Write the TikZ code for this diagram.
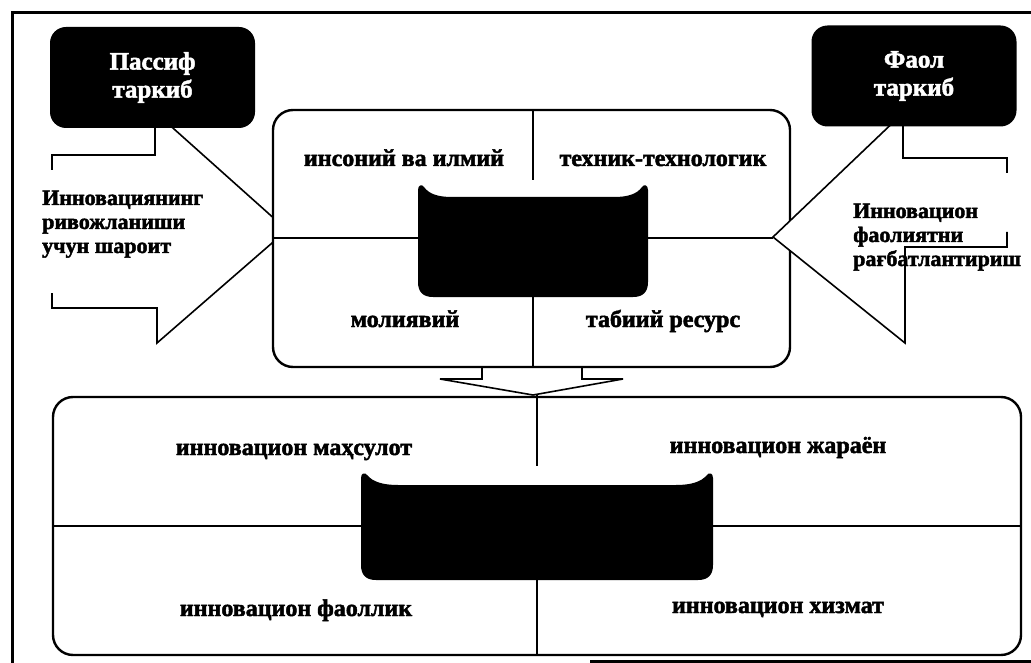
\documentclass[tikz,border=0pt]{standalone}
\usepackage{fontspec}
\setmainfont{Liberation Serif}[BoldFeatures={FakeBold=2}]
\begin{document}
\begin{tikzpicture}[x=1pt,y=-1pt,
  frame/.style={line width=3pt},
  box/.style={line width=2.4pt, rounded corners=20pt, fill=white},
  arr/.style={line width=1.6pt, fill=white, line join=miter},
  div/.style={line width=2.2pt},
  blackbox/.style={fill=black, rounded corners=16pt, text=white, align=center, inner sep=0pt,
    font=\bfseries\fontsize{25}{28}\selectfont, minimum width=205pt, minimum height=101pt},
  lbl/.style={font=\bfseries\fontsize{24}{26}\selectfont, inner sep=0pt, anchor=base},
  side/.style={font=\bfseries\fontsize{22}{24}\selectfont, inner sep=0pt, anchor=base west}
]
\useasboundingbox (0,0) rectangle (1031,663);

% outer frame
\draw[frame] (12,663) -- (12,13) -- (1031,13);
\draw[frame] (590,661) -- (1031,661);

% left block arrow
\draw[arr] (52,170) -- (52,155) -- (155,155) -- (155,112) -- (287,230) -- (157,343) -- (157,308) -- (52,308) -- (52,293);

% down arrow
\draw[arr] (482,366) -- (482,379) -- (440,379) -- (533,395) -- (623,379) -- (582,379) -- (582,366);

% top box
\draw[box] (273,110) rectangle (790,367);
\draw[div] (533,110) -- (533,180);
\draw[div] (533,297) -- (533,367);
\draw[div] (273,238) -- (418,238);

% right block arrow
\draw[arr] (1007,173) -- (1007,158) -- (903,158) -- (903,113) -- (773,237) -- (905,343) -- (905,247) -- (1007,247) -- (1007,232);
\draw[div] (648,238) -- (773,238);

% top black shape
\fill (418,282) -- (418,190) .. controls (418,185) and (422,184) .. (424,187)
  .. controls (429,194) and (438,197) .. (452,197) -- (614,197)
  .. controls (628,197) and (637,194) .. (642,187)
  .. controls (644,184) and (648,185) .. (648,190) -- (648,282)
  .. controls (648,292) and (643,297) .. (633,297) -- (433,297)
  .. controls (423,297) and (418,292) .. (418,282) -- cycle;

% bottom box
\draw[box] (53,397) rectangle (1021,655);
\draw[div] (537,395) -- (537,466);
\draw[div] (537,580) -- (537,655);
\draw[div] (53,526) -- (361,526);
\draw[div] (713,526) -- (1021,526);

% bottom black shape
\fill (361,565) -- (361,478) .. controls (361,473) and (365,472) .. (367,475)
  .. controls (373,482) and (383,485) .. (398,485) -- (676,485)
  .. controls (691,485) and (701,482) .. (707,475)
  .. controls (709,472) and (713,473) .. (713,478) -- (713,565)
  .. controls (713,575) and (708,580) .. (698,580) -- (376,580)
  .. controls (366,580) and (361,575) .. (361,565) -- cycle;

% black header boxes
\node[blackbox] (pas) at (152.5,77.5) {Пассиф\\таркиб};
\node[blackbox] (fao) at (914,76) {Фаол\\таркиб};

% side texts
\node[side] (l1) at (42,205) {Инновациянинг};
\node[side] (l2) at (42,229) {ривожланиши};
\node[side] (l3) at (42,253) {учун шароит};
\node[side] (r1) at (853,218) {Инновацион};
\node[side] (r2) at (853,242) {фаолиятни};
\node[side] (r3) at (853,266) {рағбатлантириш};

% top box labels
\node[lbl] (t1) at (404,166) {инсоний ва илмий};
\node[lbl] (t2) at (663,166) {техник-технологик};
\node[lbl] (t3) at (405,327) {молиявий};
\node[lbl] (t4) at (663,327) {табиий ресурс};

% bottom box labels
\node[lbl] (b1) at (294,455) {инновацион маҳсулот};
\node[lbl] (b2) at (778,453) {инновацион жараён};
\node[lbl] (b3) at (296,616) {инновацион фаоллик};
\node[lbl] (b4) at (778,613) {инновацион хизмат};
\end{tikzpicture}
\end{document}
